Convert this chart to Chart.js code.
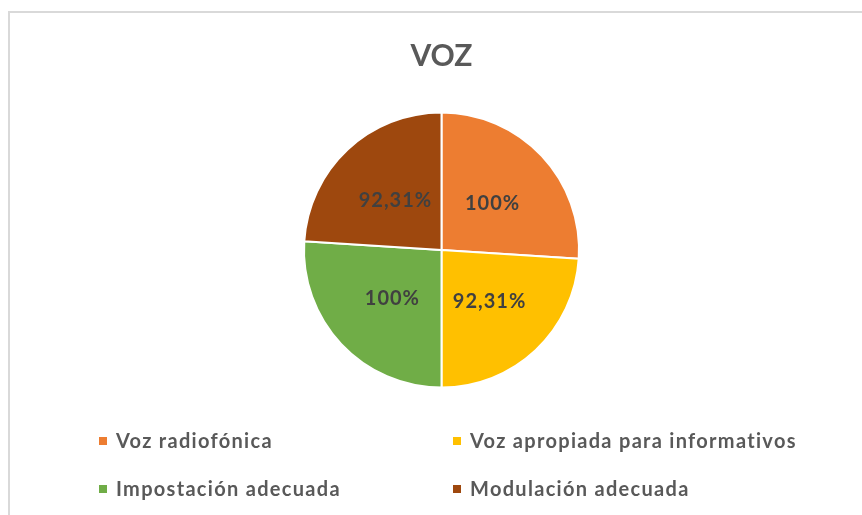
<!DOCTYPE html>
<html>
<head>
<meta charset="utf-8">
<script src="https://cdn.jsdelivr.net/npm/chart.js@4"></script>
<style>
  html,body{margin:0;padding:0;background:#fff;}
  #wrap{position:relative;width:862px;height:515px;overflow:hidden;}
  #frame{position:absolute;left:8px;top:11px;right:-4px;bottom:-4px;border-top:2px solid #d9d9d9;border-left:2px solid #d9d9d9;}
  canvas{position:absolute;left:0;top:0;}
</style>
</head>
<body>
<div id="wrap">
  <div id="frame"></div>
  <canvas id="vozChart" width="862" height="515"></canvas>
</div>
<script>
/* ── DATA ── */
const title   = 'VOZ';
const labels  = ['Voz radiofónica','Voz apropiada para informativos','Impostación adecuada','Modulación adecuada'];
const values  = [100, 92.31, 100, 92.31];
const colors  = ['#ED7D31','#FFC000','#70AD47','#9E480E'];

const FONT = 'Lato, "Open Sans", sans-serif';
const fmtPct = v => (Number.isInteger(v) ? v : v.toFixed(2).replace('.', ',')) + '%';

// labels inside slices (centroid of each arc)
const sliceLabels = {
  id: 'sliceLabels',
  afterDatasetsDraw(chart) {
    const ctx = chart.ctx;
    const meta = chart.getDatasetMeta(0);
    ctx.save();
    ctx.font = 'bold 20px ' + FONT;
    ctx.letterSpacing = '1px';
    ctx.fillStyle = '#404040';
    ctx.textAlign = 'center';
    ctx.textBaseline = 'middle';
    meta.data.forEach((arc, i) => {
      const p = arc.tooltipPosition();
      ctx.fillText(fmtPct(chart.data.datasets[0].data[i]), p.x + 1, p.y + 1);
    });
    ctx.restore();
  }
};

// two-column legend under the pie
const gridLegend = {
  id: 'gridLegend',
  afterDraw(chart) {
    const ctx = chart.ctx;
    const cols = [99, 453], rows = [441, 489];
    ctx.save();
    ctx.font = 'bold 20px ' + FONT;
    ctx.letterSpacing = '1.3px';
    ctx.textBaseline = 'middle';
    chart.data.labels.forEach((lab, i) => {
      const x = cols[i % 2], y = rows[Math.floor(i / 2)];
      ctx.fillStyle = chart.data.datasets[0].backgroundColor[i];
      ctx.fillRect(x, y - 4, 8, 8);
      ctx.fillStyle = '#595959';
      ctx.fillText(lab, x + 17, y + 1);
    });
    ctx.restore();
  }
};

new Chart(document.getElementById('vozChart').getContext('2d'), {
  type: 'pie',
  data: {
    labels,
    datasets: [{
      data: values,
      backgroundColor: colors,
      borderColor: '#ffffff',
      borderWidth: 2
    }]
  },
  options: {
    responsive: false,
    animation: false,
    layout: { padding: { left: 21, right: 0, top: 0, bottom: 126.5 } },
    plugins: {
      legend: { display: false },
      tooltip: { enabled: false },
      title: {
        display: true,
        text: title,
        color: '#595959',
        font: { family: FONT, size: 30, weight: 'bold', lineHeight: 1.2 },
        padding: { top: 38, bottom: 37.5 }
      }
    }
  },
  plugins: [sliceLabels, gridLegend]
});
</script>
</body>
</html>
